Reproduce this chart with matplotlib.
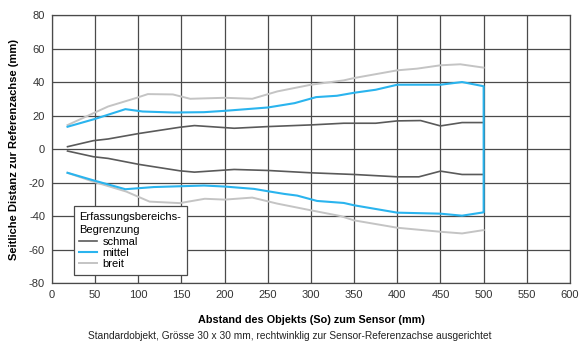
import matplotlib.pyplot as plt

plt.rcParams['font.family'] = ['Liberation Sans', 'DejaVu Sans']
plt.rcParams['axes.unicode_minus'] = False

# Erfassungsbereich (x in mm, y in mm)
schmal_oben_x = [18, 48, 65, 101, 148, 165, 211, 250, 300, 338, 375, 400, 427, 450, 475, 500]
schmal_oben_y = [1.4, 5, 6, 9.3, 13, 14, 12.4, 13.4, 14.4, 15.4, 15.4, 16.8, 17, 13.8, 15.8, 15.8]
schmal_unten_x = [18, 48, 65, 101, 148, 165, 211, 250, 300, 350, 400, 425, 450, 475, 500]
schmal_unten_y = [-1.2, -4.6, -5.6, -9.2, -13, -13.8, -12.2, -12.8, -14.2, -15.2, -16.6, -16.6, -13.2, -15.2, -15.2]

mittel_oben_x = [18, 50, 85, 105, 141, 176, 200, 250, 281, 306, 330, 350, 375, 400, 450, 475, 500]
mittel_oben_y = [13.3, 18, 23.8, 22.4, 21.8, 22, 22.8, 24.8, 27.4, 31, 31.8, 33.6, 35.4, 38.4, 38.4, 40, 37.5]
mittel_unten_x = [18, 48, 85, 118, 176, 200, 234, 250, 269, 284, 307, 338, 350, 400, 450, 475, 500]
mittel_unten_y = [-14.2, -18.7, -24, -22.7, -21.8, -22.4, -23.8, -25.2, -26.8, -27.8, -31, -32.2, -33.6, -38, -38.6, -39.8, -37.8]

breit_oben_x = [18, 48, 65, 97, 111, 140, 160, 200, 232, 261, 300, 338, 350, 400, 423, 450, 473, 500]
breit_oben_y = [14.3, 21.4, 25.4, 30.4, 32.8, 32.6, 30, 30.6, 30, 34.4, 38.4, 41, 42.4, 47, 48, 50, 50.6, 48.6]
breit_unten_x = [18, 48, 86, 113, 148, 177, 200, 232, 261, 300, 334, 350, 400, 450, 475, 500]
breit_unten_y = [-14.2, -19.5, -25.4, -31.4, -32.3, -29.7, -30.2, -29, -32.6, -36.6, -40, -42.6, -47, -49.4, -50.4, -48.4]

x_ticks = list(range(0, 601, 50))
y_ticks = list(range(-80, 81, 20))

c_schmal = '#5a5a5a'
c_mittel = '#2ab4ee'
c_breit = '#c4c4c4'

fig = plt.figure(figsize=(5.79, 3.42), dpi=100)
ax = fig.add_axes([0.0898, 0.1725, 0.8946, 0.7835])

ax.plot(breit_oben_x, breit_oben_y, color=c_breit, lw=1.4, zorder=3, label='breit')
ax.plot(breit_unten_x, breit_unten_y, color=c_breit, lw=1.4, zorder=3)
ax.plot(schmal_oben_x, schmal_oben_y, color=c_schmal, lw=1.2, zorder=4, label='schmal')
ax.plot(schmal_unten_x, schmal_unten_y, color=c_schmal, lw=1.2, zorder=4)
# mittel: upper edge, closing line at 500 mm, lower edge
ax.plot(mittel_oben_x + mittel_unten_x[::-1], mittel_oben_y + mittel_unten_y[::-1],
        color=c_mittel, lw=1.5, zorder=5, label='mittel')

ax.set_xlim(0, 600)
ax.set_ylim(-80, 80)
ax.set_xticks(x_ticks)
ax.set_yticks(y_ticks)
ax.tick_params(length=0, labelsize=8, colors='#333333', pad=5)
ax.grid(True, color='#4a4a4a', lw=0.9)
for s in ax.spines.values():
    s.set_color('#4a4a4a')
    s.set_linewidth(0.9)

ax.set_ylabel('Seitliche Distanz zur Referenzachse (mm)', fontsize=8, fontweight='bold', labelpad=7)
ax.set_xlabel('Abstand des Objekts (So) zum Sensor (mm)', fontsize=7.8, fontweight='bold', labelpad=11)
fig.text(0.5, 0.008, 'Standardobjekt, Grösse 30 x 30 mm, rechtwinklig zur Sensor-Referenzachse ausgerichtet',
         ha='center', fontsize=7.3, color='#222222')

handles, labels = ax.get_legend_handles_labels()
order = [1, 2, 0]
leg = ax.legend([handles[i] for i in order], [labels[i] for i in order],
                title='Erfassungsbereichs-\nBegrenzung', loc='upper left',
                bbox_to_anchor=(0.042, 0.287), borderaxespad=0, fontsize=8,
                title_fontsize=8, fancybox=False, edgecolor='#4a4a4a', framealpha=1,
                handlelength=1.6, handletextpad=0.5, labelspacing=0.12, borderpad=0.5)
leg._legend_box.align = 'left'
leg.get_title().set_linespacing(1.45)
leg.get_frame().set_linewidth(0.9)

fig.savefig('out.png', dpi=100)
